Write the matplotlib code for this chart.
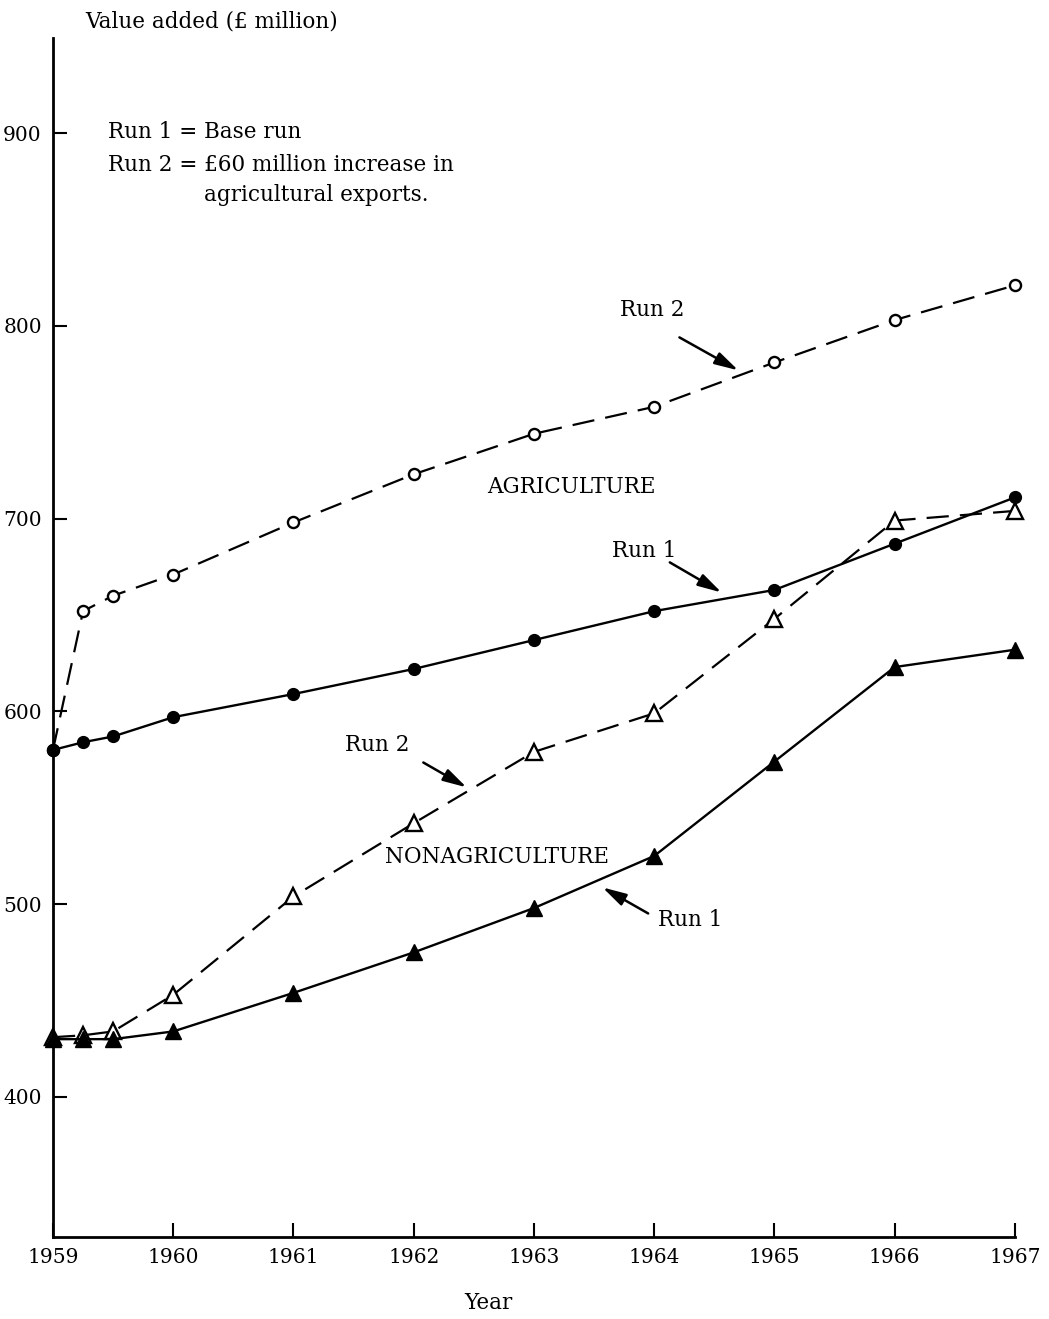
import matplotlib
matplotlib.use('Agg')
import matplotlib.pyplot as plt

# Years (the first year has three sub-period points)
years = [1959, 1959.25, 1959.5, 1960, 1961, 1962, 1963, 1964, 1965, 1966, 1967]

# Agriculture value added (£ million)
agri_run1 = [580, 584, 587, 597, 609, 622, 637, 652, 663, 687, 711]
agri_run2 = [580, 652, 660, 671, 698, 723, 744, 758, 781, 803, 821]

# Nonagriculture value added (£ million)
nonagri_run1 = [430, 430, 430, 434, 454, 475, 498, 525, 574, 623, 632]
nonagri_run2 = [431, 432, 434, 453, 504, 542, 579, 599, 648, 699, 704]

year_ticks = [1959, 1960, 1961, 1962, 1963, 1964, 1965, 1966, 1967]
value_ticks = [400, 500, 600, 700, 800, 900]

plt.rcParams['font.family'] = 'DejaVu Serif'
fs = 15.5

fig = plt.figure(figsize=(10.49, 13.19), dpi=100)
ax = fig.add_axes([0.0505, 0.0622, 0.917, 0.909])

dash = (10, 5)
ax.plot(years, agri_run2, color='black', lw=1.6, dashes=dash,
        marker='o', ms=8, mfc='white', mec='black', mew=1.7, clip_on=False)
ax.plot(years, agri_run1, color='black', lw=1.7,
        marker='o', ms=8.5, mfc='black', mec='black', clip_on=False)
ax.plot(years, nonagri_run2, color='black', lw=1.6, dashes=dash,
        marker='^', ms=12, mfc='white', mec='black', mew=1.7, clip_on=False)
ax.plot(years, nonagri_run1, color='black', lw=1.7,
        marker='^', ms=12, mfc='black', mec='black', clip_on=False)

ax.set_xlim(1959, 1967)
ax.set_ylim(327.4, 949.3)
ax.set_xticks(year_ticks)
ax.set_yticks(value_ticks)
ax.tick_params(direction='in', length=10, width=1.5, labelsize=14.5, pad=8)
for s in ['top', 'right']:
    ax.spines[s].set_visible(False)
for s in ['left', 'bottom']:
    ax.spines[s].set_linewidth(2)

fig.text(0.081, 0.984, 'Value added (£ million)', fontsize=fs, va='center')
fig.text(0.466, 0.004, 'Year', fontsize=fs, va='bottom', ha='center')

# key text
ax.text(1959.457, 900.3, 'Run 1 = Base run', fontsize=fs, va='center')
ax.text(1959.457, 883.2, 'Run 2 = £60 million increase in', fontsize=fs, va='center')
ax.text(1960.26, 867.6, 'agricultural exports.', fontsize=fs, va='center')

ax.text(1963.31, 716.2, 'AGRICULTURE', fontsize=fs, ha='center', va='center')
ax.text(1962.69, 524.3, 'NONAGRICULTURE', fontsize=fs, ha='center', va='center')

# run labels with arrows: (label, label position, arrow start, arrow end)
arrow = dict(arrowstyle='-|>,head_length=1.3,head_width=0.35', color='black',
             lw=1.8, mutation_scale=11, shrinkA=0, shrinkB=0)
run_labels = [
    ('Run 2', (1963.98, 808.0), (1964.21, 794.0), (1964.70, 776.9)),
    ('Run 1', (1963.92, 683.0), (1964.13, 677.3), (1964.56, 661.7)),
    ('Run 2', (1961.70, 582.4), (1962.08, 573.5), (1962.44, 560.6)),
    ('Run 1', (1964.30, 491.6), (1963.95, 495.2), (1963.57, 508.7)),
]
for label, pos, start, end in run_labels:
    ax.text(pos[0], pos[1], label, fontsize=fs, ha='center', va='center')
    ax.annotate('', xy=end, xytext=start, arrowprops=arrow)

fig.savefig('out.png', dpi=100)
